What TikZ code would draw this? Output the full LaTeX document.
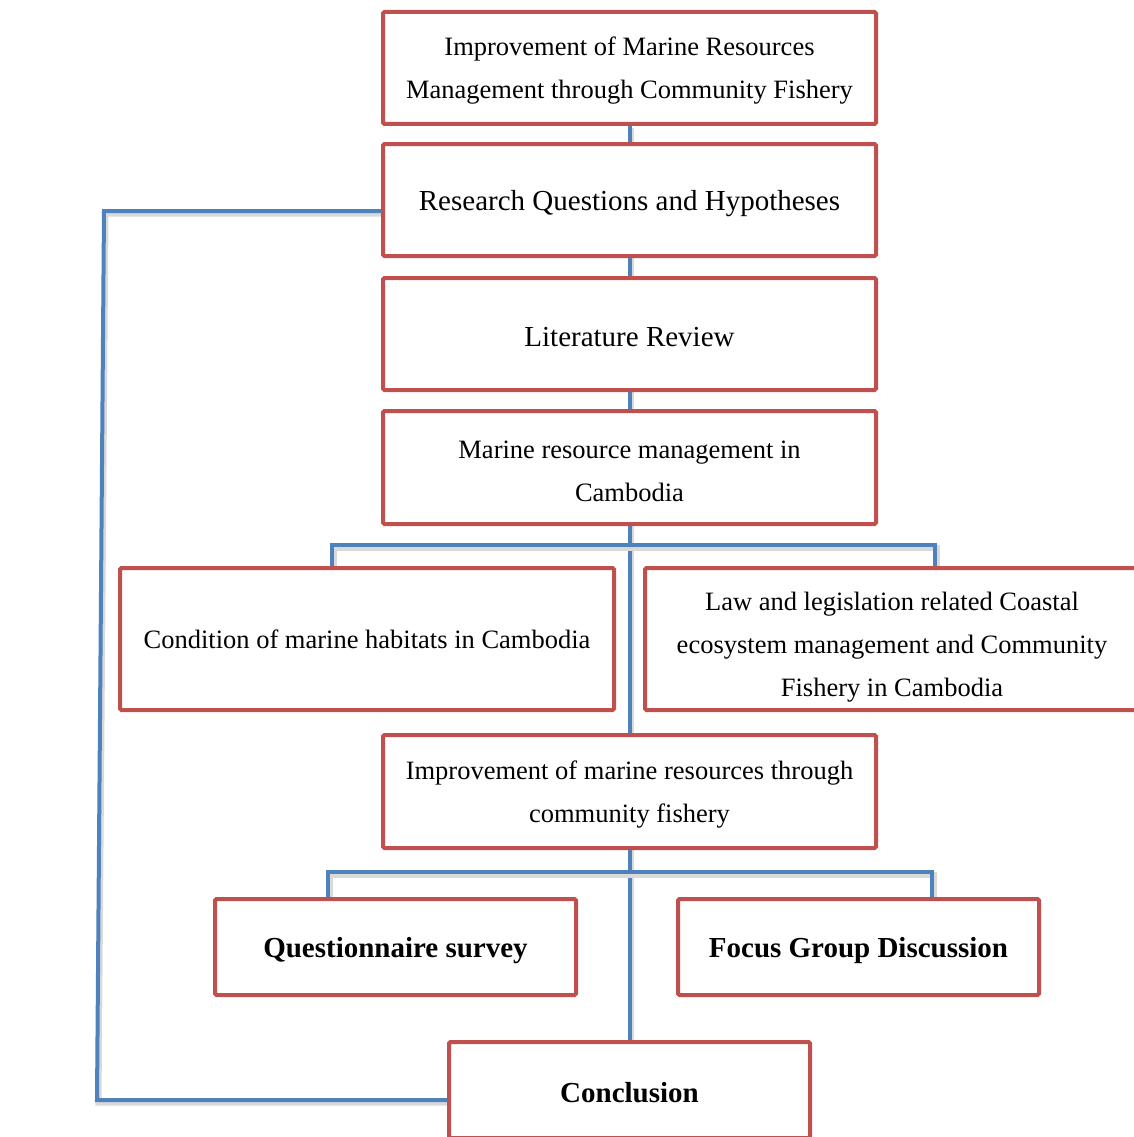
\documentclass[tikz,border=0pt]{standalone}
\usepackage{fontspec}
\setmainfont{Liberation Serif}
\usetikzlibrary{backgrounds}
\definecolor{boxred}{RGB}{192,80,77}
\definecolor{lineblue}{RGB}{79,129,189}
\begin{document}
\begin{tikzpicture}[x=1pt,y=-1pt,
  box/.style={draw=boxred,line width=4pt,fill=white,align=center,inner sep=0pt,rounded corners=1.5pt},
  txt/.style={font=\fontsize{26.5}{43}\selectfont},
  big/.style={font=\fontsize{29}{35}\selectfont},
  boldtxt/.style={font=\fontsize{29}{35}\selectfont\bfseries},
  conn/.style={draw=lineblue,line width=4pt,
    preaction={draw=black!15,line width=6pt,transform canvas={shift={(1.5pt,-2.5pt)}}}}]
\useasboundingbox (0,0) rectangle (1134,1137);
\clip (0,0) rectangle (1134,1137);
\node[box,txt,minimum width=493pt,minimum height=112pt,text depth=0pt] (b1) at (629.5,68)
  {Improvement of Marine Resources\\Management through Community Fishery};
\node[box,big,minimum width=493pt,minimum height=112pt,text depth=-3.7pt] (b2) at (629.5,200)
  {Research Questions and Hypotheses};
\node[box,big,minimum width=493pt,minimum height=112pt,text height=24pt,text depth=0pt] (b3) at (629.5,334)
  {Literature Review};
\node[box,txt,minimum width=493pt,minimum height=113pt,text height=67pt,text depth=0pt] (b4) at (629.5,467.5)
  {Marine resource management in\\Cambodia};
\node[box,txt,minimum width=494pt,minimum height=142pt] (b5) at (367,639)
  {Condition of marine habitats in Cambodia};
\node[box,txt,minimum width=494pt,minimum height=142pt,text height=114pt,text depth=0pt] (b6) at (892,639)
  {Law and legislation related Coastal\\ecosystem management and Community\\Fishery in Cambodia};
\node[box,txt,minimum width=493pt,minimum height=113pt,text depth=0pt] (b7) at (629.5,791.5)
  {Improvement of marine resources through\\community fishery};
\node[box,boldtxt,minimum width=361pt,minimum height=96pt,text depth=-3.7pt] (b8) at (395.5,947)
  {Questionnaire survey};
\node[box,boldtxt,minimum width=361pt,minimum height=96pt,text depth=-4pt] (b9) at (858.5,947)
  {Focus Group Discussion};
\node[box,boldtxt,minimum width=361pt,minimum height=96pt,text height=24pt,text depth=0pt] (b10) at (629.5,1090)
  {Conclusion};
\begin{scope}[on background layer]
  \draw[conn] (b1.south) -- (b10.north);
  \coordinate (bus1) at (629.5,545);
  \draw[conn] ([xshift=-35pt]b5.north) |- (bus1) -| ([xshift=43pt]b6.north);
  \coordinate (bus2) at (629.5,872);
  \draw[conn] ([xshift=-67.5pt]b8.north) |- (bus2) -| ([xshift=73.5pt]b9.north);
  \coordinate (fbtop) at (104,211);
  \coordinate (fbbot) at (97,1100);
  \draw[conn] ([yshift=-11pt]b2.west) -- (fbtop) -- (fbbot) -- (b10.west |- fbbot);
\end{scope}
\end{tikzpicture}
\end{document}
